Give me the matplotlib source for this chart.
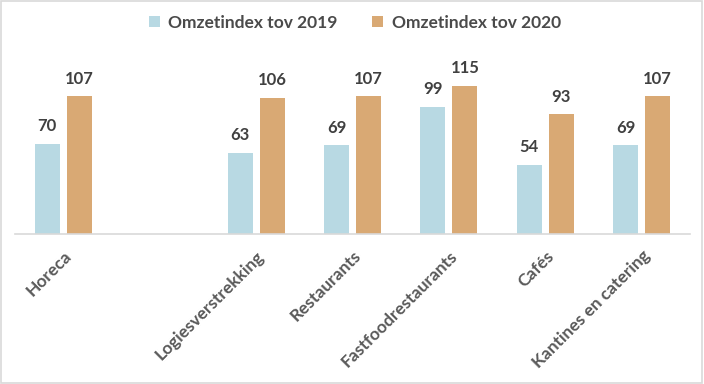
import numpy as np
import matplotlib.pyplot as plt
from matplotlib.patches import Rectangle

categories = ["Horeca", "", "Logiesverstrekking", "Restaurants",
              "Fastfoodrestaurants", "Cafés", "Kantines en catering"]
index_2019 = [70, np.nan, 63, 69, 99, 54, 69]
index_2020 = [107, np.nan, 106, 107, 115, 93, 107]
series_names = ["Omzetindex tov 2019", "Omzetindex tov 2020"]

plt.rcParams['font.family'] = ['Lato', 'DejaVu Sans']

fig = plt.figure(figsize=(7.04, 3.84), dpi=100)
ax = fig.add_axes([15/704, 150/384, 675/704, 180/384])

x = np.arange(len(categories))
w = 0.26
off = 0.166
b1 = ax.bar(x - off, index_2019, w, color='#B8D9E3', label=series_names[0])
b2 = ax.bar(x + off, index_2020, w, color='#D9A974', label=series_names[1])

for bars, vals in ((b1, index_2019), (b2, index_2020)):
    for rect, v in zip(bars, vals):
        if np.isnan(v):
            continue
        ax.annotate(f"{v:.0f}", (rect.get_x() + rect.get_width()/2, v),
                    xytext=(0, 7), textcoords='offset points',
                    ha='center', va='bottom', fontsize=12,
                    fontweight='bold', color='#404040')

ax.set_xlim(-0.5, len(categories) - 0.5)
ax.set_ylim(0, 140)
ax.set_yticks([])
ax.set_xticks(x)
ax.set_xticklabels(categories, rotation=45, ha='right', va='top',
                   rotation_mode='anchor', fontsize=12.5,
                   fontweight='bold', color='#595959')
ax.tick_params(axis='x', length=0, pad=10)
for s in ('top', 'right', 'left'):
    ax.spines[s].set_visible(False)
ax.spines['bottom'].set_color('#D9D9D9')
ax.spines['bottom'].set_linewidth(1.2)

leg = fig.legend(loc='center', bbox_to_anchor=(355/704, 1 - 23/384),
                 ncol=2, frameon=False, handlelength=0.6, handleheight=0.6,
                 handletextpad=0.5, columnspacing=2.0,
                 prop={'size': 12.5, 'weight': 'bold'})
for t in leg.get_texts():
    t.set_color('#4A4A4A')

fig.patches.append(Rectangle((0.002, 0.003), 0.995, 0.994, transform=fig.transFigure,
                             fill=False, edgecolor='#D9D9D9', linewidth=1.2))

fig.savefig('out.png', dpi=100)
